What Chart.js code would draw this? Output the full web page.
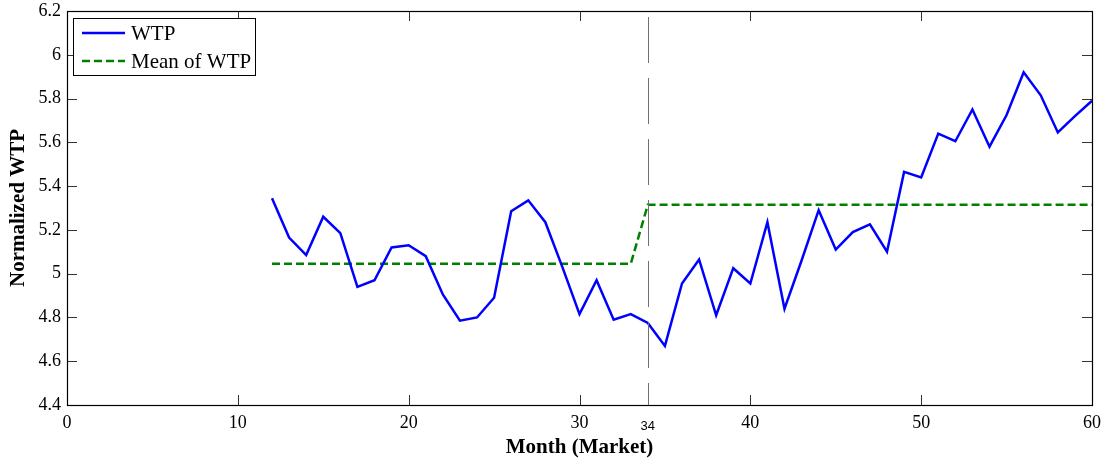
<!DOCTYPE html>
<html>
<head>
<meta charset="utf-8">
<script src="https://cdn.jsdelivr.net/npm/chart.js@4.4.1/dist/chart.umd.min.js"></script>
<style>
  html, body { margin: 0; padding: 0; background: #fff; }
  canvas { display: block; }
</style>
</head>
<body>
<canvas id="c" width="1110" height="461"></canvas>
<script>
// Monthly normalized willingness-to-pay (months 12..60)
const months = [12,13,14,15,16,17,18,19,20,21,22,23,24,25,26,27,28,29,30,31,32,33,34,35,36,
                37,38,39,40,41,42,43,44,45,46,47,48,49,50,51,52,53,54,55,56,57,58,59,60];
const wtp = [5.345,5.165,5.085,5.26,5.185,4.94,4.97,5.12,5.13,5.08,4.905,4.785,4.80,4.89,5.285,
             5.335,5.235,5.03,4.815,4.97,4.79,4.815,4.775,4.67,4.955,5.065,4.81,5.025,4.955,5.235,
             4.84,5.06,5.29,5.11,5.19,5.225,5.10,5.465,5.44,5.64,5.605,5.75,5.58,5.725,5.92,
             5.815,5.645,5.72,5.79];
// Mean of WTP before and after the market change
const meanMonths = [12, 33, 34, 60];
const meanWtp = [5.045, 5.045, 5.315, 5.315];
const markerMonth = 34;
const xTicks = [0, 10, 20, 30, 40, 50, 60];
const yTicks = [4.4, 4.6, 4.8, 5, 5.2, 5.4, 5.6, 5.8, 6, 6.2];
const seriesNames = ['WTP', 'Mean of WTP'];

const SERIF = '"Liberation Serif", "Times New Roman", serif';
const SANS = '"Liberation Sans", Arial, sans-serif';

const toPoints = (xs, ys) => xs.map((x, i) => ({ x: x, y: ys[i] }));

// Frame, inward tick marks, marker line and its label, legend box
const decor = {
  id: 'decor',
  afterDatasetsDraw(chart) {
    const { ctx, chartArea: a, scales: { x, y } } = chart;
    const T = 10;
    ctx.save();

    // vertical marker at month 34
    const mx = Math.round(x.getPixelForValue(markerMonth)) + 0.5;
    ctx.strokeStyle = '#707070';
    ctx.lineWidth = 1;
    ctx.setLineDash([46, 15]);
    ctx.lineDashOffset = 55;
    ctx.beginPath();
    ctx.moveTo(mx, a.top);
    ctx.lineTo(mx, a.bottom);
    ctx.stroke();
    ctx.setLineDash([]);
    ctx.lineDashOffset = 0;

    // tick marks on all four sides
    ctx.strokeStyle = '#333';
    ctx.lineWidth = 1;
    ctx.beginPath();
    xTicks.forEach(v => {
      const px = Math.round(x.getPixelForValue(v)) + 0.5;
      ctx.moveTo(px, a.bottom); ctx.lineTo(px, a.bottom - T);
      ctx.moveTo(px, a.top); ctx.lineTo(px, a.top + T);
    });
    yTicks.forEach(v => {
      const py = Math.round(y.getPixelForValue(v)) + 0.5;
      ctx.moveTo(a.left, py); ctx.lineTo(a.left + T, py);
      ctx.moveTo(a.right, py); ctx.lineTo(a.right - T, py);
    });
    ctx.stroke();

    // axes box
    ctx.strokeStyle = '#000';
    ctx.lineWidth = 1.2;
    ctx.strokeRect(Math.round(a.left) + 0.5, Math.round(a.top) + 0.5,
                   Math.round(a.right - a.left), Math.round(a.bottom - a.top));

    // extra month label under the marker
    ctx.fillStyle = '#000';
    ctx.font = '13px ' + SANS;
    ctx.textAlign = 'center';
    ctx.textBaseline = 'middle';
    ctx.fillText(String(markerMonth), x.getPixelForValue(markerMonth), a.bottom + 21);

    // legend
    const lx = a.left + 6, ly = a.top + 7, lw = 182, lh = 57;
    ctx.fillStyle = '#fff';
    ctx.fillRect(lx, ly, lw, lh);
    ctx.strokeStyle = '#000';
    ctx.lineWidth = 1;
    ctx.strokeRect(lx + 0.5, ly + 0.5, lw, lh);
    chart.data.datasets.forEach((ds, i) => {
      const ry = ly + 15 + i * 28;
      ctx.strokeStyle = ds.borderColor;
      ctx.lineWidth = ds.borderWidth;
      ctx.setLineDash(ds.borderDash || []);
      ctx.beginPath();
      ctx.moveTo(lx + 9, ry);
      ctx.lineTo(lx + 52, ry);
      ctx.stroke();
      ctx.setLineDash([]);
      ctx.fillStyle = '#000';
      ctx.font = '21px ' + SERIF;
      ctx.textAlign = 'left';
      ctx.textBaseline = 'middle';
      ctx.fillText(ds.label, lx + 58, ry + 1);
    });
    ctx.restore();
  }
};

new Chart(document.getElementById('c'), {
  type: 'line',
  data: {
    datasets: [
      {
        label: seriesNames[0],
        data: toPoints(months, wtp),
        borderColor: '#0000ff',
        borderWidth: 2.5,
        pointRadius: 0,
        tension: 0,
        fill: false
      },
      {
        label: seriesNames[1],
        data: toPoints(meanMonths, meanWtp),
        borderColor: '#008000',
        borderWidth: 2.5,
        borderDash: [8, 4],
        pointRadius: 0,
        tension: 0,
        fill: false
      }
    ]
  },
  options: {
    responsive: false,
    animation: false,
    layout: { padding: { top: 11, right: 18, left: 0, bottom: 0 } },
    plugins: { legend: { display: false }, tooltip: { enabled: false } },
    scales: {
      x: {
        type: 'linear',
        min: 0, max: 60,
        afterBuildTicks: s => { s.ticks = xTicks.map(v => ({ value: v })); },
        ticks: { color: '#000', font: { family: SERIF, size: 18 }, padding: 7, maxRotation: 0,
                 callback: v => String(v) },
        grid: { display: false, drawTicks: false },
        border: { display: false },
        title: { display: true, text: 'Month (Market)', color: '#000',
                 font: { family: SERIF, size: 21, weight: 'bold' }, padding: { top: 0, bottom: 1 } },
        afterFit: s => { s.height = 56; }
      },
      y: {
        type: 'linear',
        min: 4.4, max: 6.2,
        afterBuildTicks: s => { s.ticks = yTicks.map(v => ({ value: v })); },
        ticks: { color: '#000', font: { family: SERIF, size: 18 }, padding: 6,
                 callback: v => String(+v.toFixed(1)) },
        grid: { display: false, drawTicks: false },
        border: { display: false },
        title: { display: true, text: 'Normalized WTP', color: '#000',
                 font: { family: SERIF, size: 21, weight: 'bold' }, padding: { top: 6, bottom: 0 } },
        afterFit: s => { s.width = 67; s.paddingTop = 0; s.paddingBottom = 0; }
      }
    }
  },
  plugins: [decor]
});
</script>
</body>
</html>
